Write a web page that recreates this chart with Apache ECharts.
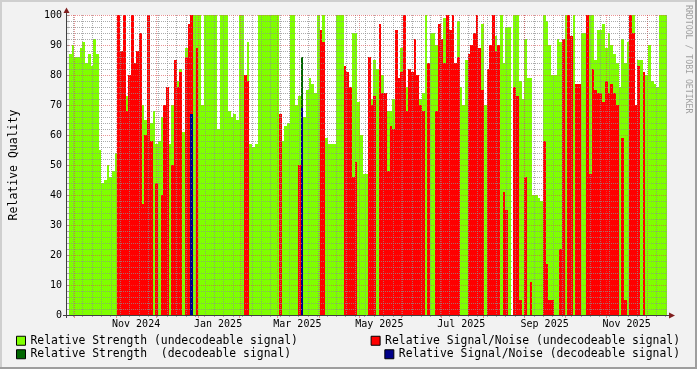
<!DOCTYPE html>
<html><head><meta charset="utf-8">
<script src="https://cdn.jsdelivr.net/npm/echarts@6/dist/echarts.min.js"></script>
<style>html,body{margin:0;padding:0;background:#f2f2f2}#c{width:697px;height:369px}</style>
</head><body><div id="c"></div>
<script>
// ---- data (2-day buckets starting at START) ----
const START = Date.UTC(2024, 8, 27, 1, 40);
const DAY = 86400000;
const SPAN_DAYS = 445;
const strengthUndecodeable = [
87,90,86,86,89,91,84,87,83,92, 87,55,44,45,50,46,48,54,70,76,
75,73,70,60,60,60,75,70,65,69, 64,68,57,58,66,69,60,57,70,76,
78,82,61,89,86,97,100,100,100,70, 100,100,100,100,100,62,100,100,100,68,
66,67,65,100,100,70,91,57,56,57, 100,100,100,100,100,100,100,100,62,58,
63,64,100,100,70,73,73,66,75,79, 77,74,100,60,100,59,57,57,57,100,
100,100,80,78,70,94,94,71,60,47, 47,72,72,85,82,82,80,70,68,68,
72,70,79,89,76,76,78,77,80,80, 72,74,100,84,94,94,90,0,0,99,
0,0,0,0,98,76,70,85,77,0, 0,0,0,97,70,63,85,0,93,0,
100,84,96,96,0,100,100,78,72,92, 79,79,40,40,39,38,100,98,90,80,
80,92,91,85,100,0,0,100,70,60, 94,94,88,100,100,85,95,95,97,89,
94,90,87,84,76,92,84,91,0,100, 0,85,85,80,80,90,78,77,76,100,
100,100];
const snrUndecodeable = [
0,0,0,0,0,0,0,0,0,0, 0,0,0,0,0,0,0,0,100,88,
100,68,80,100,84,88,94,37,60,100, 58,0,44,0,40,70,76,0,50,85,
76,81,0,86,97,100,0,89,0,0, 0,0,0,0,0,0,0,0,0,0,
0,0,0,0,0,80,78,0,0,0, 0,0,0,0,0,0,0,0,67,0,
0,0,0,0,0,50,50,0,0,0, 0,0,0,95,91,0,0,0,0,0,
0,0,83,81,76,46,51,0,0,0, 0,86,70,73,0,97,74,74,48,63,
62,95,79,81,100,68,82,81,92,80, 70,68,0,84,0,0,68,97,92,84,
100,95,100,84,86,0,0,0,87,90, 94,100,89,75,0,82,90,100,88,90,
0,41,35,0,0,76,73,5,0,46, 0,11,0,0,0,0,58,17,5,5,
0,0,22,92,0,100,93,0,77,77, 0,0,100,47,82,75,74,74,71,78,
74,77,74,70,0,59,5,0,100,94, 70,83,0,81,0,0,0,0,0,0,
0,0];
// sparse: [bucket index, value]
const strengthDecodeable = [[86, 86]];
const snrDecodeable = [[45, 67], [86, 69]];
// x-axis labels (centred in the month they name)
const monthLabels = ['Nov 2024','Jan 2025','Mar 2025','May 2025','Jul 2025','Sep 2025','Nov 2025'];
const monthLabelDates = ['2024-11-16','2025-01-16','2025-03-16','2025-05-16','2025-07-16','2025-09-16','2025-11-16'];

const N1 = 'Relative Strength (undecodeable signal)';
const N2 = 'Relative Signal/Noise (undecodeable signal)';
const N3 = 'Relative Strength  (decodeable signal)';
const N4 = 'Relative Signal/Noise (decodeable signal)';
const STEP = SPAN_DAYS / strengthUndecodeable.length;
const dayOf = s => (Date.parse(s + 'T00:00:00Z') - START) / DAY;

const labelPos = monthLabelDates.map(dayOf);
const majorPos = [];
for (let m = 0; m < 16; m++) { const d = (Date.UTC(2024, 9 + m, 1) - START) / DAY; if (d > 0 && d < SPAN_DAYS) majorPos.push(d); }
const minorPos = [];
for (let t = Date.UTC(2024, 8, 30); t < START + SPAN_DAYS * DAY; t += 7 * DAY) { const d = (t - START) / DAY; if (d > 0) minorPos.push(d); }

const FONT = 'DejaVu Sans Mono';
const MGRID = 'rgba(222,79,79,0.6)';
const GRID = 'rgba(143,143,143,0.75)';

function barRender(params, api) {
  const x0 = api.value(0), v = api.value(1);
  if (!(v > 0)) return null;
  const a = api.coord([x0, v]);
  const b = api.coord([x0 + STEP, 0]);
  const l = Math.round(a[0]), r = Math.round(b[0]);
  return { type: 'rect', shape: { x: l, y: a[1], width: Math.max(1, r - l), height: b[1] - a[1] },
    style: { fill: api.visual('color') } };
}
function gridRender(params, api) {
  const pos = api.value(0), kind = api.value(1);
  let x1, y1, x2, y2;
  if (kind < 2) {
    const p = api.coord([pos, 100]), q = api.coord([pos, 0]);
    x1 = x2 = Math.round(p[0]) + 0.5; y1 = p[1]; y2 = q[1];
  } else {
    const p = api.coord([0, pos]), q = api.coord([SPAN_DAYS, pos]);
    y1 = y2 = Math.round(p[1]) + 0.5; x1 = p[0]; x2 = q[0];
  }
  return { type: 'line', shape: { x1, y1, x2, y2 },
    style: { stroke: (kind % 2) ? MGRID : GRID, lineWidth: 1, lineDash: [1, 1] } };
}
const gridData = [];
minorPos.forEach(d => gridData.push([d, 0]));
majorPos.forEach(d => gridData.push([d, 1]));
for (let v = 2; v <= 100; v += 2) { if (v % 10) gridData.push([v, 2]); }
for (let v = 10; v <= 100; v += 10) gridData.push([v, 3]);

const legendBase = { orient: 'vertical', itemGap: 0, padding: 0, itemWidth: 9, itemHeight: 9, icon: 'rect',
  selectedMode: false, itemStyle: { borderColor: '#000', borderWidth: 1 },
  textStyle: { fontFamily: FONT, fontSize: 11.4, color: '#000', lineHeight: 13.5 } };

const chart = echarts.init(document.getElementById('c'), null, { renderer: 'canvas' });
chart.setOption({
  backgroundColor: '#f2f2f2',
  animation: false,
  grid: { left: 67, top: 15, width: 600, height: 300, show: true, backgroundColor: '#ffffff', borderWidth: 0 },
  legend: [
    Object.assign({}, legendBase, { left: 16, top: 334, data: [N1, N3] }),
    Object.assign({}, legendBase, { right: 17, top: 334, data: [N2] }),
    Object.assign({}, legendBase, { right: 17, top: 347.5, data: [N4] })
  ],
  xAxis: [
    { type: 'value', min: 0, max: SPAN_DAYS, axisLine: { show: false }, splitLine: { show: false },
      axisTick: { show: true, customValues: majorPos, length: 3, lineStyle: { color: MGRID } },
      axisLabel: { customValues: labelPos, margin: 4, fontFamily: FONT, fontSize: 10, color: '#000',
        formatter: v => { const i = labelPos.findIndex(p => Math.abs(p - v) < 1e-6); return i >= 0 ? monthLabels[i] : ''; } } },
    { type: 'value', min: 0, max: SPAN_DAYS, position: 'bottom', axisLine: { show: false }, splitLine: { show: false },
      axisTick: { show: true, customValues: minorPos, length: 2, lineStyle: { color: GRID } }, axisLabel: { show: false } }
  ],
  yAxis: [
    { type: 'value', min: 0, max: 100, interval: 10, axisLine: { show: false }, splitLine: { show: false },
      axisTick: { show: true, length: 3, lineStyle: { color: MGRID } },
      axisLabel: { margin: 7, fontFamily: FONT, fontSize: 10, color: '#000' },
      name: 'Relative Quality', nameLocation: 'middle', nameGap: 49, nameRotate: 90,
      nameTextStyle: { fontFamily: FONT, fontSize: 11.5, color: '#000' } },
    { type: 'value', min: 0, max: 100, interval: 2, position: 'left', axisLine: { show: false }, splitLine: { show: false },
      axisTick: { show: true, length: 2, lineStyle: { color: GRID } }, axisLabel: { show: false } }
  ],
  series: [
    { type: 'custom', name: N1, renderItem: barRender, encode: { x: 0, y: 1 }, itemStyle: { color: '#7fff00' },
      data: strengthUndecodeable.map((v, i) => [i * STEP, v]), z: 2 },
    { type: 'custom', name: N2, renderItem: barRender, encode: { x: 0, y: 1 }, itemStyle: { color: '#ff0000' },
      data: snrUndecodeable.map((v, i) => [i * STEP, v]), z: 2 },
    { type: 'custom', name: N3, renderItem: barRender, encode: { x: 0, y: 1 }, itemStyle: { color: '#006600' },
      data: strengthDecodeable.map(([i, v]) => [i * STEP, v]), z: 2 },
    { type: 'custom', name: N4, renderItem: barRender, encode: { x: 0, y: 1 }, itemStyle: { color: '#000088' },
      data: snrDecodeable.map(([i, v]) => [i * STEP, v]), z: 2 },
    { type: 'custom', name: 'grid', renderItem: gridRender, encode: { x: 0, y: 1 }, silent: true, z: 3,
      data: gridData }
  ],
  graphic: [
    { type: 'rect', shape: { x: 0, y: 0, width: 697, height: 2 }, style: { fill: '#cfcfcf' }, silent: true },
    { type: 'rect', shape: { x: 0, y: 0, width: 2, height: 369 }, style: { fill: '#cfcfcf' }, silent: true },
    { type: 'rect', shape: { x: 0, y: 367, width: 697, height: 2 }, style: { fill: '#9e9e9e' }, silent: true },
    { type: 'rect', shape: { x: 695, y: 0, width: 2, height: 369 }, style: { fill: '#9e9e9e' }, silent: true },
    { type: 'line', shape: { x1: 66.5, y1: 318, x2: 66.5, y2: 12 }, style: { stroke: '#404040', lineWidth: 1 }, z: 10, silent: true },
    { type: 'line', shape: { x1: 63, y1: 315.5, x2: 670, y2: 315.5 }, style: { stroke: '#404040', lineWidth: 1 }, z: 10, silent: true },
    { type: 'polygon', shape: { points: [[63.5, 13], [69.5, 13], [66.5, 7.5]] }, style: { fill: '#801f1f' }, z: 10, silent: true },
    { type: 'polygon', shape: { points: [[669, 312.5], [669, 318.5], [675, 315.5]] }, style: { fill: '#801f1f' }, z: 10, silent: true },
    { type: 'text', x: 688, y: 5, rotation: -Math.PI / 2, silent: true,
      style: { text: 'RRDTOOL / TOBI OETIKER', fontFamily: FONT, fontSize: 8.2, fill: '#a0a0a0', align: 'left', verticalAlign: 'middle' } }
  ]
});
</script></body></html>
